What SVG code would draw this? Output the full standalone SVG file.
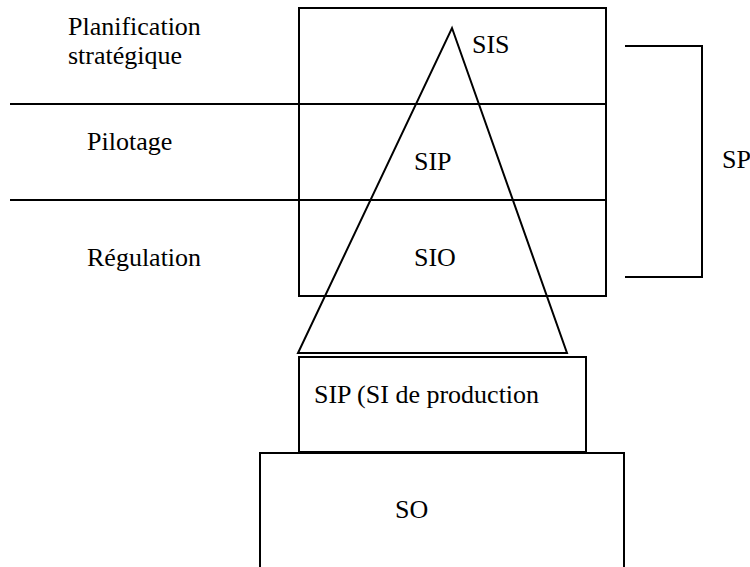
<svg xmlns="http://www.w3.org/2000/svg" width="750" height="567" viewBox="0 0 750 567">
<style>
.ln{fill:none;stroke:#000;stroke-width:2}
.t{font-family:'Times New Roman',Times,'Liberation Serif',Tinos,'Noto Serif','DejaVu Serif','Nimbus Roman',FreeSerif,serif;font-size:26px;fill:#000}
</style>
<rect width="750" height="567" fill="#fff"/>
<g id="levels">
<rect id="main-box" class="ln" x="299" y="8" width="307" height="288"/>
<line class="ln" x1="10" y1="104" x2="606" y2="104"/>
<line class="ln" x1="10" y1="200" x2="606" y2="200"/>
</g>
<g id="level-labels">
<text class="t" x="68" y="35">Planification</text>
<text class="t" x="68" y="64">stratégique</text>
<text class="t" x="87" y="150">Pilotage</text>
<text class="t" x="87" y="266">Régulation</text>
</g>
<g id="pyramid">
<polygon class="ln" points="452,28 567,353 298,353"/>
<text class="t" x="472" y="53">SIS</text>
<text class="t" x="414" y="170">SIP</text>
<text class="t" x="414" y="266">SIO</text>
</g>
<g id="sp-bracket">
<polyline class="ln" points="625,46 702,46 702,277 625,277"/>
<text class="t" x="722" y="168">SP</text>
</g>
<g id="sip-prod">
<rect class="ln" x="299" y="357" width="287" height="95"/>
<text class="t" x="314" y="403">SIP (SI de production</text>
</g>
<g id="so">
<rect class="ln" x="260" y="453" width="364" height="130"/>
<text class="t" x="395" y="518">SO</text>
</g>
</svg>
